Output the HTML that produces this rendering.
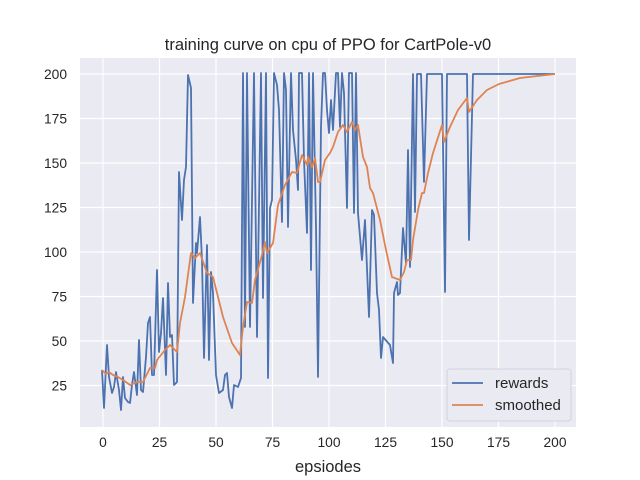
<!DOCTYPE html>
<html><head><style>body{margin:0;background:#fff}svg{display:block}text{font-family:"Liberation Sans","DejaVu Sans",sans-serif;fill:#262626}</style></head>
<body>
<svg width="640" height="480" viewBox="0 0 640 480">
<rect x="80" y="58" width="496" height="369" fill="#eaeaf2"/>
<g stroke="#fff" stroke-width="1.2">
<line x1="103" y1="58" x2="103" y2="427"/><line x1="159.5" y1="58" x2="159.5" y2="427"/><line x1="216" y1="58" x2="216" y2="427"/><line x1="272.5" y1="58" x2="272.5" y2="427"/><line x1="329" y1="58" x2="329" y2="427"/><line x1="385.5" y1="58" x2="385.5" y2="427"/><line x1="442" y1="58" x2="442" y2="427"/><line x1="498.5" y1="58" x2="498.5" y2="427"/><line x1="555" y1="58" x2="555" y2="427"/>
<line x1="80" y1="74" x2="576" y2="74"/><line x1="80" y1="118.5" x2="576" y2="118.5"/><line x1="80" y1="163" x2="576" y2="163"/><line x1="80" y1="207.5" x2="576" y2="207.5"/><line x1="80" y1="252" x2="576" y2="252"/><line x1="80" y1="296.5" x2="576" y2="296.5"/><line x1="80" y1="341" x2="576" y2="341"/><line x1="80" y1="385.5" x2="576" y2="385.5"/>
</g>
<polyline fill="none" stroke="#4c72b0" stroke-width="1.8" stroke-linejoin="round" points="102,370 104,408 107,345 109,377 112,393 114,387 116,372 119,390 121,410 123,377 125,398 128,402 130,403 132,385 134,372 137,395 139,340 141,390 143,392 146,357 148,323 150,317 152,375 154,375 157,270 159,352 161,333 163,298 166,375 168,283 170,337 172,335 174,385 177,382 179,172 182,220 184,180 186,167 188,75 191,88 193,303 196,243 197,253 200,217 202,260 204,358 207,245 209,360 211,272 213,293 216,375 219,393 223,390 225,375 227,373 229,397 232,408 234,385 238,387 241,378 243,73 245,327 247,73 250,327 254,73 257,337 261,73 263,298 266,73 268,378 270,208 272,200 274,73 277,85 279,110 282,222 284,73 286,90 288,227 291,73 293,130 296,160 298,190 299,73 302,73 304,160 307,233 309,73 311,270 313,73 316,227 318,377 321,127 323,73 325,73 327,110 329,133 331,100 333,130 336,73 338,73 340,127 342,73 344,93 347,208 349,73 352,73 354,213 356,73 358,213 362,260 365,220 369,317 372,210 374,215 377,293 379,310 381,358 383,337 390,345 393,363 394,293 397,282 398,295 400,293 403,228 406,263 408,150 410,267 413,74 415,212 417,74 421,74 424,182 427,74 442,74 445,292 447,74 467,74 469,240 473,74 555,74"/>
<polyline fill="none" stroke="#dd8452" stroke-width="1.8" stroke-linejoin="round" points="102,370 106,374 109,372 113,375 118,377 123,380 130,385 137,382 143,382 150,368 155,368 157,360 165,350 170,345 177,352 180,323 185,297 191,253 195,258 200,253 207,273 213,277 223,317 232,343 240,355 243,327 247,302 252,303 255,280 262,255 265,242 267,253 273,243 278,205 285,185 292,172 297,173 302,155 307,165 308,157 312,167 315,158 318,182 320,182 325,160 330,153 333,147 338,132 343,125 347,132 352,122 355,130 358,125 363,157 367,167 370,188 373,193 380,220 386,250 392,277 400,280 404,272 407,260 411,260 413,240 418,210 422,193 424,193 428,173 433,153 442,125 444,142 450,127 458,110 467,98 469,112 477,100 487,90 499,84 520,78 555,74"/>
<g font-size="13.8" text-anchor="end">
<text x="67" y="79">200</text><text x="67" y="123.5">175</text><text x="67" y="168">150</text><text x="67" y="212.5">125</text><text x="67" y="257">100</text><text x="67" y="301.5">75</text><text x="67" y="346">50</text><text x="67" y="390.5">25</text>
</g>
<g font-size="13.8" text-anchor="middle">
<text x="103" y="447">0</text><text x="159.5" y="447">25</text><text x="216" y="447">50</text><text x="272.5" y="447">75</text><text x="329" y="447">100</text><text x="385.5" y="447">125</text><text x="442" y="447">150</text><text x="498.5" y="447">175</text><text x="555" y="447">200</text>
<text x="328" y="472" font-size="16.5">epsiodes</text>
<text x="328" y="50" font-size="16.5">training curve on cpu of PPO for CartPole-v0</text>
</g>
<rect x="447" y="369" width="124" height="52" rx="3" fill="#eaeaf2" stroke="#d0d0d8" stroke-opacity="0.9"/>
<line x1="452" y1="383" x2="483" y2="383" stroke="#4c72b0" stroke-width="1.8"/>
<line x1="452" y1="405" x2="483" y2="405" stroke="#dd8452" stroke-width="1.8"/>
<text x="495" y="388" font-size="15">rewards</text>
<text x="495" y="410" font-size="15">smoothed</text>
</svg>
</body></html>
